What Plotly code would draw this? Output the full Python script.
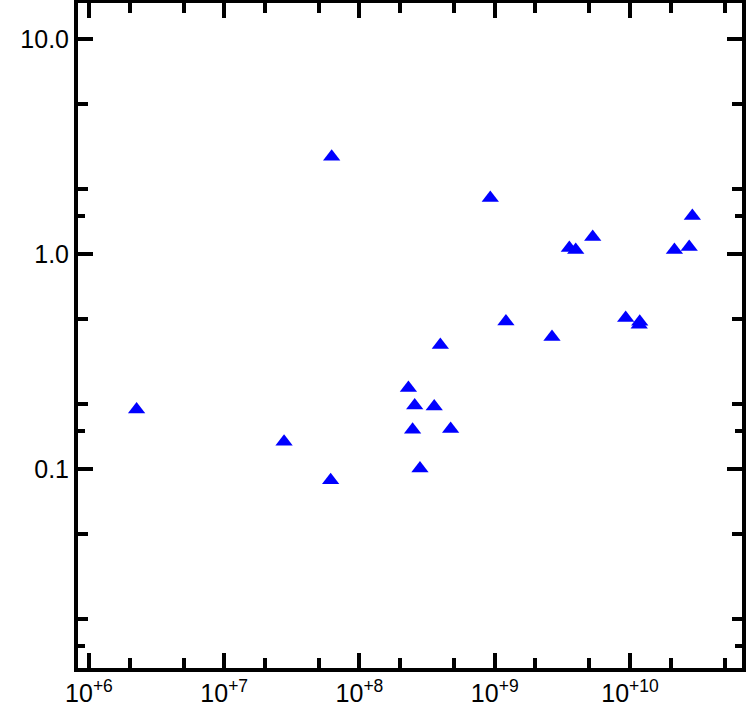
"""Log-log scatter of blue triangles with framed axes and inward ticks."""

import plotly.graph_objects as go

# values
x_values = [2.25e6, 2.77e7, 6.23e7, 6.12e7, 2.30e8, 2.56e8, 2.47e8, 2.80e8,
            3.57e8, 3.96e8, 4.72e8, 9.27e8, 1.21e9, 2.65e9, 3.56e9, 3.97e9,
            5.30e9, 9.29e9, 1.18e10, 1.17e10, 2.13e10, 2.74e10, 2.89e10]
y_values = [0.189, 0.1336, 2.83, 0.0885, 0.238, 0.197, 0.152, 0.1005,
            0.195, 0.377, 0.1535, 1.82, 0.485, 0.411, 1.066, 1.044,
            1.20, 0.504, 0.483, 0.468, 1.044, 1.078, 1.50]

x_tickvals = [1e6, 1e7, 1e8, 1e9, 1e10]
x_ticktext = ['10<sup>+6</sup>', '10<sup>+7</sup>', '10<sup>+8</sup>',
              '10<sup>+9</sup>', '10<sup>+10</sup>']
y_tickvals = [0.1, 1.0, 10.0]
y_ticktext = ['0.1', '1.0', '10.0']
y_extra_ticks = [0.015, 0.15, 1.5]

x_range = [5.919, 10.828]
y_range = [-1.926, 1.167]

FONT = 'Liberation Sans'

fig = go.Figure()
fig.add_trace(go.Scatter(
    x=x_values,
    y=y_values,
    mode='markers',
    marker=dict(symbol='triangle-up', size=15, color='#0000ff', line=dict(width=0)),
    showlegend=False,
))
# empty trace so the overlaid tick-only axis gets its own subplot
fig.add_trace(go.Scatter(x=[], y=[], yaxis='y2', mode='markers', showlegend=False,
                         hoverinfo='skip'))

axis_common = dict(
    type='log',
    automargin=False,
    showline=True,
    linewidth=4,
    linecolor='black',
    mirror='ticks',
    ticks='inside',
    tickwidth=4,
    tickcolor='black',
    showgrid=False,
    zeroline=False,
    tickfont=dict(family=FONT, size=25, color='black'),
)

fig.update_layout(
    width=747,
    height=714,
    template='none',
    font=dict(family=FONT, size=25, color='black'),
    paper_bgcolor='white',
    plot_bgcolor='white',
    margin=dict(l=78, r=5, t=3, b=46),
    xaxis=dict(
        **axis_common,
        range=x_range,
        tickmode='array',
        tickvals=x_tickvals,
        ticktext=x_ticktext,
        ticklen=15,
        minor=dict(dtick='D2', ticks='inside', ticklen=10, tickwidth=4,
                   tickcolor='black', showgrid=False),
    ),
    yaxis=dict(
        **axis_common,
        range=y_range,
        tickmode='array',
        tickvals=y_tickvals,
        ticktext=y_ticktext,
        ticklen=15,
        minor=dict(dtick='D2', ticks='inside', ticklen=10, tickwidth=4,
                   tickcolor='black', showgrid=False),
    ),
    # short ticks at 1.5 x decade, drawn on an overlaid axis
    yaxis2=dict(
        type='log',
        overlaying='y',
        anchor='x',
        side='left',
        automargin=False,
        range=y_range,
        tickmode='array',
        tickvals=y_extra_ticks,
        ticks='inside',
        ticklen=7,
        tickwidth=4,
        tickcolor='black',
        mirror='ticks',
        showline=False,
        showticklabels=False,
        showgrid=False,
        zeroline=False,
    ),
)

# drop the page's default body margin so the figure sits at the window corner
fig.write_html("out.html", config={'displayModeBar': False},
               post_script="document.body.style.margin = '0';")
